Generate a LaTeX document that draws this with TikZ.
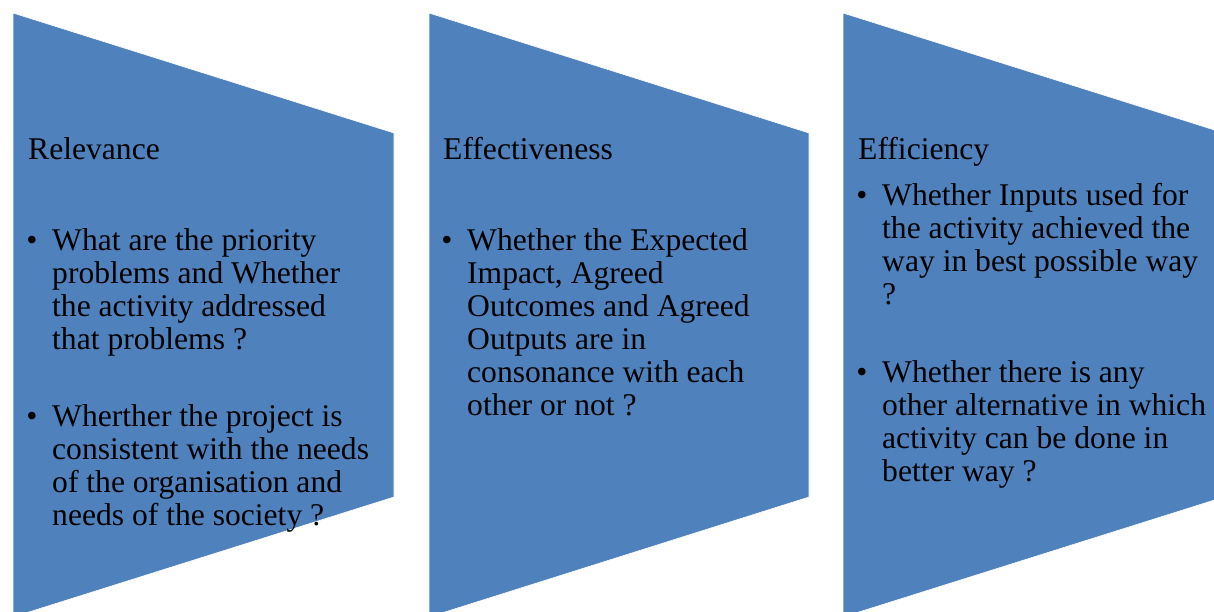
\documentclass[tikz,border=0pt]{standalone}
\usepackage{fontspec}
\setmainfont{Liberation Serif}
\definecolor{panelblue}{HTML}{4F81BD}
\tikzset{
  panel/.style={fill=panelblue, draw=white, line width=0.6pt},
  head/.style={anchor=base west, inner sep=0pt},
  % multi-line nodes sit on the baseline of their last line
  item/.style={anchor=base west, align=left, inner sep=0pt},
  dot/.style={anchor=base, inner sep=0pt}
}

\begin{document}
\begin{tikzpicture}[x=1pt,y=-1pt,font=\fontsize{31.6}{33}\selectfont]
\useasboundingbox (0,0) rectangle (1214,611);
\clip (0,0) rectangle (1214,611);
% the three chevron panels
\filldraw[panel] (13,13)--(394,133)--(394,497)--(13,617)--cycle;
\filldraw[panel] (429,13)--(809,133)--(809,497)--(429,617)--cycle;
\filldraw[panel] (843,13)--(1224,133)--(1224,497)--(843,617)--cycle;
% relevance
\node[head] (relevance) at (28,159) {Relevance};
\node[dot] (reldotA) at (32,250) {\textbullet};
\node[item] (relA) at (52,349) {What are the priority\\problems and Whether\\the activity addressed\\that problems ?};
\node[dot] (reldotB) at (32,426) {\textbullet};
\node[item] (relB) at (52,525) {Wherther the project is\\consistent with the needs\\of the organisation and\\needs of the society ?};
% effectiveness
\node[head] (effectiveness) at (443,159) {Effectiveness};
\node[dot] (effdotA) at (447,250) {\textbullet};
\node[item] (effA) at (467,415) {Whether the Expected\\Impact, Agreed\\Outcomes and Agreed\\Outputs are in\\consonance with each\\other or not ?};
% efficiency
\node[head] (efficiency) at (858,159) {Efficiency};
\node[dot] (ecydotA) at (862,205) {\textbullet};
\node[item] (ecyA) at (882,304) {Whether Inputs used for\\the activity achieved the\\way in best possible way\\?};
\node[dot] (ecydotB) at (862,382) {\textbullet};
\node[item] (ecyB) at (882,481) {Whether there is any\\other alternative in which\\activity can be done in\\better way ?};
\end{tikzpicture}
\end{document}
